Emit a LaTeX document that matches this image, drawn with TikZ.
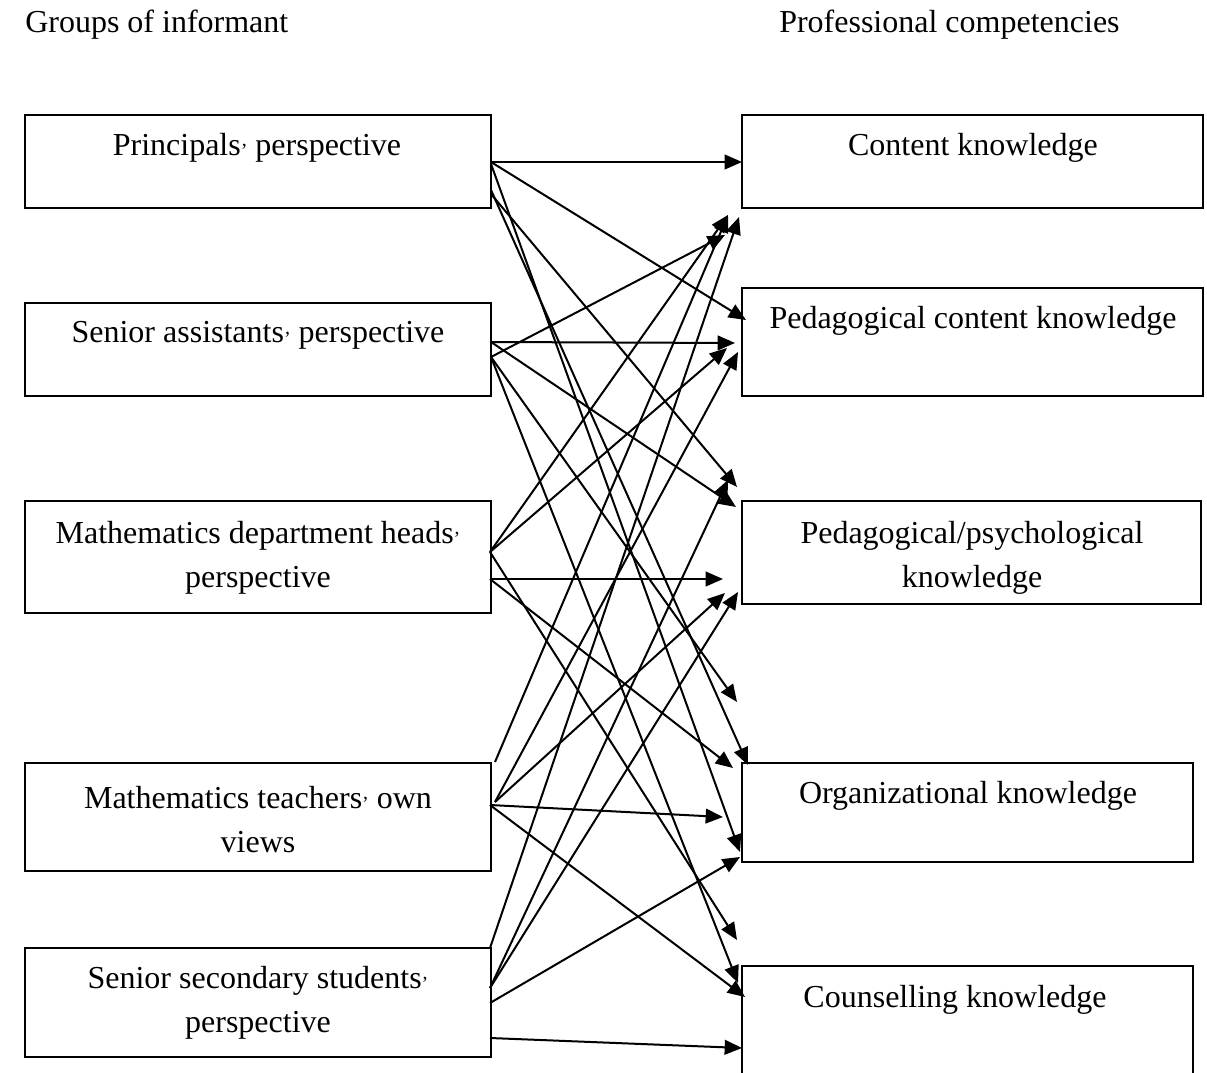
\documentclass[tikz,border=0pt]{standalone}
\usepackage{fontspec}
\setmainfont{Liberation Serif}
\usetikzlibrary{arrows.meta,fit}
\newcommand{\myapos}{{\fontsize{15}{15}\selectfont\raisebox{-0.12em}{’}}}
\begin{document}
\begin{tikzpicture}[x=0.75pt,y=-0.75pt,
  box/.style={draw, line width=1.2pt, inner sep=0pt},
  lbl/.style={font=\fontsize{24}{33}\selectfont, align=center, inner sep=0pt},
  hdr/.style={font=\fontsize{24}{29}\selectfont, inner sep=0pt, anchor=base west},
  arr/.style={line width=1.5pt, -{Triangle[length=13pt,width=11pt]}}]
\useasboundingbox (0,0) rectangle (1207,1073);
\clip (0,0) rectangle (1207,1073);

% headers
\node[hdr] (hleft) at (25,33) {Groups of informant};
\node[hdr] (hright) at (779,33) {Professional competencies};

% left boxes
\node[box, fit={(25,115) (491,208)}] (b1) {};
\node[box, fit={(25,303) (491,396)}] (b2) {};
\node[box, fit={(25,501) (491,613)}] (b3) {};
\node[box, fit={(25,763) (491,871)}] (b4) {};
\node[box, fit={(25,948) (491,1057)}] (b5) {};
\node[lbl] (t1) at (257,147.5) {Principals\myapos{} perspective};
\node[lbl] (t2) at (258,335.5) {Senior assistants\myapos{} perspective};
\node[lbl] (t3) at (258,557.5) {Mathematics department heads\myapos\\perspective};
\node[lbl] (t4) at (258,819.5) {Mathematics teachers\myapos{} own\\views};
\node[lbl] (t5) at (258,1002.5) {Senior secondary students\myapos\\perspective};

% right boxes
\node[box, fit={(742,115) (1203,208)}] (r1) {};
\node[box, fit={(742,288) (1203,396)}] (r2) {};
\node[box, fit={(742,501) (1201,604)}] (r3) {};
\node[box, fit={(742,763) (1193,862)}] (r4) {};
\node[box, fit={(742,966) (1193,1090)}] (r5) {};
\node[lbl] (u1) at (973,147.5) {Content knowledge};
\node[lbl] (u2) at (973,320.5) {Pedagogical content knowledge};
\node[lbl] (u3) at (972,557.5) {Pedagogical/psychological\\knowledge};
\node[lbl] (u4) at (968,795.5) {Organizational knowledge};
\node[lbl] (u5) at (955,999.5) {Counselling knowledge};

% start points
\coordinate (p1a) at (491,162);
\coordinate (p1b) at (491,164);
\coordinate (p1c) at (491,190);
\coordinate (p1d) at (491,194);
\coordinate (s2a) at (491,342);
\coordinate (s2b) at (491,357);
\coordinate (m3a) at (490,552);
\coordinate (m3b) at (490,579);
\coordinate (t4a) at (495,762);
\coordinate (t4b) at (495,802);
\coordinate (t4c) at (490,805);
\coordinate (v5a) at (490,948);
\coordinate (v5b) at (490,988);
\coordinate (v5c) at (490,1003);
\coordinate (v5d) at (490,1038);

% end points
\coordinate (ck1) at (742,162);
\coordinate (ck2) at (728,215);
\coordinate (ck3) at (739,217);
\coordinate (ck4) at (725,235);
\coordinate (pc1) at (746,320);
\coordinate (pc2) at (735,343);
\coordinate (pc3) at (727,348);
\coordinate (pc4) at (738,352);
\coordinate (pp1) at (728,480);
\coordinate (pp2) at (737,487);
\coordinate (pp3) at (736,507);
\coordinate (pp4) at (723,579);
\coordinate (pp5) at (725,593);
\coordinate (pp6) at (738,592);
\coordinate (og0) at (737,702);
\coordinate (og1) at (733,768);
\coordinate (og2) at (748,765);
\coordinate (og3) at (723,817);
\coordinate (og4) at (740,852);
\coordinate (og5) at (740,857);
\coordinate (co1) at (737,940);
\coordinate (co2) at (738,983);
\coordinate (co3) at (745,997);
\coordinate (co4) at (742,1048);

% principals
\draw[arr] (p1a) -- (ck1);
\draw[arr] (p1a) -- (pc1);
\draw[arr] (p1d) -- (pp2);
\draw[arr] (p1b) -- (og4);
\draw[arr] (p1c) -- (og2);
% senior assistants
\draw[arr] (s2a) -- (pc2);
\draw[arr] (s2b) -- (ck4);
\draw[arr] (s2a) -- (pp3);
\draw[arr] (s2b) -- (og0);
\draw[arr] (s2b) -- (co2);
% department heads
\draw[arr] (m3a) -- (ck2);
\draw[arr] (m3a) -- (pc3);
\draw[arr] (m3b) -- (pp4);
\draw[arr] (m3b) -- (og1);
\draw[arr] (m3a) -- (co1);
% teachers
\draw[arr] (t4a) -- (ck2);
\draw[arr] (t4b) -- (pc4);
\draw[arr] (t4b) -- (pp5);
\draw[arr] (t4c) -- (og3);
\draw[arr] (t4c) -- (co3);
% students
\draw[arr] (v5a) -- (ck3);
\draw[arr] (v5b) -- (pp1);
\draw[arr] (v5b) -- (pp6);
\draw[arr] (v5c) -- (og5);
\draw[arr] (v5d) -- (co4);
\end{tikzpicture}
\end{document}
